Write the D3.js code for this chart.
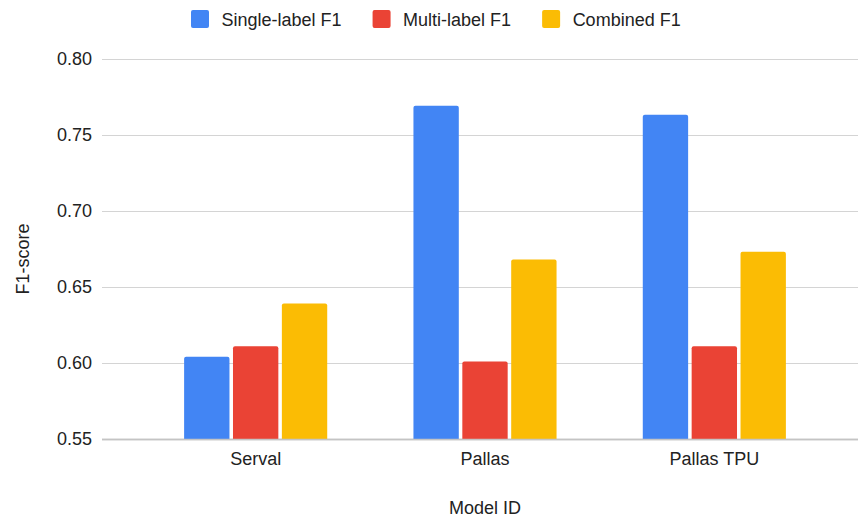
<!DOCTYPE html>
<html>
<head>
<meta charset="utf-8">
<script src="https://cdn.jsdelivr.net/npm/d3@7"></script>
<style>
  body { margin: 0; background: #fff; }
  text { font-family: Arial, "Liberation Sans", sans-serif; fill: #222; }
</style>
</head>
<body>
<div id="chart"></div>
<script>
// données
const models = ["Serval", "Pallas", "Pallas TPU"];
const seriesNames = ["Single-label F1", "Multi-label F1", "Combined F1"];
const singleLabel = [0.604, 0.769, 0.763];
const multiLabel = [0.611, 0.601, 0.611];
const combined = [0.639, 0.668, 0.673];
const yTicks = [0.55, 0.60, 0.65, 0.70, 0.75, 0.80];
const colors = ["#4285F4", "#EA4335", "#FBBC04"];

const width = 858;
const height = 520;

const svg = d3.select("#chart")
    .append("svg")
    .attr("width", width)
    .attr("height", height);

const y = d3.scaleLinear().domain([0.55, 0.80]).range([439, 58.5]);

const x = d3.scaleBand()
    .domain(models)
    .range([141, 829])
    .paddingInner(0.376)
    .paddingOuter(0.188);

const xSub = d3.scaleBand()
    .domain(seriesNames)
    .range([0, x.bandwidth()])
    .paddingInner(0.072);

const color = d3.scaleOrdinal().domain(seriesNames).range(colors);

// grille horizontale
svg.append("g")
    .selectAll("line")
    .data(yTicks)
    .join("line")
    .attr("x1", 102)
    .attr("x2", 858)
    .attr("y1", d => Math.round(y(d)) + 0.5)
    .attr("y2", d => Math.round(y(d)) + 0.5)
    .attr("stroke", d => d === 0.55 ? "#c4c4c4" : "#d4d4d4")
    .attr("stroke-width", d => d === 0.55 ? 1.5 : 1.2);

// étiquettes de l'axe Y
svg.append("g")
    .selectAll("text")
    .data(yTicks)
    .join("text")
    .attr("x", 92)
    .attr("y", d => y(d))
    .attr("dy", "0.35em")
    .attr("text-anchor", "end")
    .style("font-size", "18px")
    .text(d => d3.format(".2f")(d));

// données groupées
const rows = models.map((m, i) => ({
    model: m,
    values: [singleLabel[i], multiLabel[i], combined[i]]
}));

const r = 2;
function barPath(x0, w, y0, y1) {
    return `M${x0},${y1} V${y0 + r} Q${x0},${y0} ${x0 + r},${y0} H${x0 + w - r} Q${x0 + w},${y0} ${x0 + w},${y0 + r} V${y1} Z`;
}

const groups = svg.append("g")
    .selectAll("g")
    .data(rows)
    .join("g")
    .attr("transform", d => `translate(${x(d.model)},0)`);

groups.selectAll("path")
    .data(d => d.values.map((v, j) => ({ key: seriesNames[j], value: v })))
    .join("path")
    .attr("d", d => barPath(xSub(d.key), xSub.bandwidth(), y(d.value), y(0.55)))
    .attr("fill", d => color(d.key));

// ligne de base par-dessus les barres
svg.append("line")
    .attr("x1", 102)
    .attr("x2", 858)
    .attr("y1", Math.round(y(0.55)) + 0.5)
    .attr("y2", Math.round(y(0.55)) + 0.5)
    .attr("stroke", "#c4c4c4")
    .attr("stroke-width", 1.5);

// étiquettes de l'axe X
svg.append("g")
    .selectAll("text")
    .data(models)
    .join("text")
    .attr("x", d => x(d) + x.bandwidth() / 2)
    .attr("y", 465)
    .attr("text-anchor", "middle")
    .style("font-size", "18px")
    .text(d => d);

// titres des axes
svg.append("text")
    .attr("x", 485)
    .attr("y", 514)
    .attr("text-anchor", "middle")
    .style("font-size", "18px")
    .text("Model ID");

svg.append("text")
    .attr("transform", "translate(29,259) rotate(-90)")
    .attr("text-anchor", "middle")
    .style("font-size", "18px")
    .text("F1-score");

// légende
const legend = svg.append("g");
let lx = 191;
seriesNames.forEach((name, i) => {
    legend.append("rect")
        .attr("x", lx)
        .attr("y", 10)
        .attr("width", 18)
        .attr("height", 18)
        .attr("rx", 2)
        .attr("fill", colors[i]);
    const t = legend.append("text")
        .attr("x", lx + 30.5)
        .attr("y", 25.5)
        .style("font-size", "18px")
        .text(name);
    lx += 30.5 + t.node().getComputedTextLength() + 31;
});
</script>
</body>
</html>
